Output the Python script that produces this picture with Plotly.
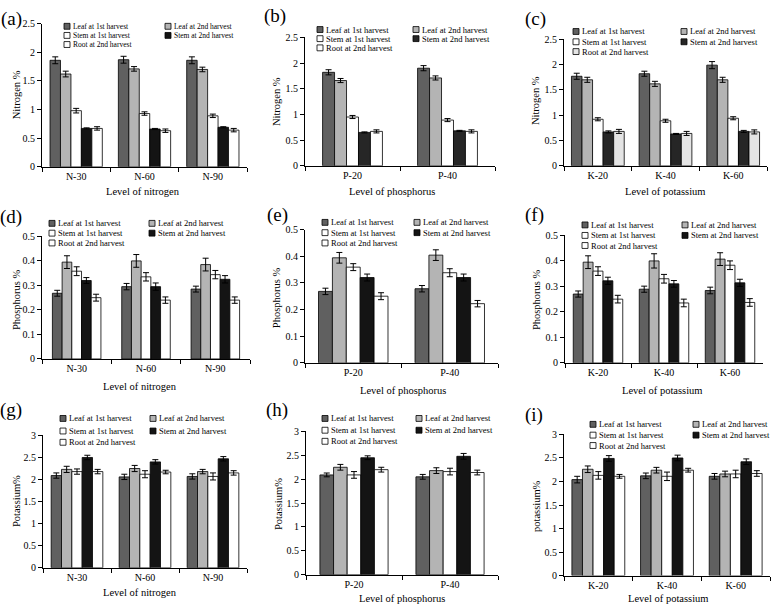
import plotly.graph_objects as go

W, H = 778, 612
FONT = "Liberation Serif, Times New Roman, serif"

SERIES = ["Leaf at 1st harvest", "Leaf at 2nd harvest", "Stem at 1st harvest",
          "Stem at 2nd harvest", "Root at 2nd harvest"]
N_LEVELS = ["N-30", "N-60", "N-90"]
P_LEVELS = ["P-20", "P-40"]
K_LEVELS = ["K-20", "K-40", "K-60"]

# rows = series (order as SERIES), columns = levels
a_vals = [[1.86, 1.87, 1.86], [1.62, 1.71, 1.70], [0.98, 0.93, 0.89], [0.67, 0.66, 0.69], [0.67, 0.63, 0.64]]
a_errs = [[0.06, 0.06, 0.06], [0.05, 0.04, 0.04], [0.04, 0.03, 0.03], [0.01, 0.01, 0.01], [0.03, 0.03, 0.03]]
b_vals = [[1.82, 1.90], [1.66, 1.71], [0.95, 0.89], [0.65, 0.68], [0.67, 0.67]]
b_errs = [[0.05, 0.05], [0.04, 0.04], [0.03, 0.03], [0.01, 0.01], [0.03, 0.03]]
c_vals = [[1.77, 1.82, 1.99], [1.70, 1.62, 1.70], [0.92, 0.89, 0.94], [0.67, 0.63, 0.68], [0.68, 0.64, 0.67]]
c_errs = [[0.06, 0.05, 0.07], [0.05, 0.05, 0.05], [0.03, 0.03, 0.03], [0.02, 0.01, 0.02], [0.04, 0.04, 0.04]]
d_vals = [[0.268, 0.295, 0.285], [0.395, 0.400, 0.385], [0.358, 0.335, 0.344], [0.320, 0.295, 0.325], [0.250, 0.240, 0.240]]
d_errs = [[0.012, 0.013, 0.012], [0.026, 0.026, 0.026], [0.018, 0.017, 0.017], [0.012, 0.015, 0.015], [0.014, 0.013, 0.013]]
e_vals = [[0.268, 0.278], [0.394, 0.404], [0.359, 0.338], [0.320, 0.320], [0.250, 0.222]]
e_errs = [[0.012, 0.012], [0.020, 0.020], [0.013, 0.015], [0.013, 0.013], [0.013, 0.012]]
f_vals = [[0.270, 0.289, 0.284], [0.395, 0.400, 0.407], [0.360, 0.330, 0.383], [0.322, 0.310, 0.314], [0.250, 0.235, 0.237]]
f_errs = [[0.012, 0.012, 0.013], [0.025, 0.028, 0.025], [0.017, 0.017, 0.017], [0.014, 0.013, 0.014], [0.015, 0.015, 0.015]]
g_vals = [[2.09, 2.06, 2.07], [2.23, 2.25, 2.18], [2.18, 2.12, 2.07], [2.50, 2.40, 2.47], [2.18, 2.17, 2.15]]
g_errs = [[0.06, 0.06, 0.06], [0.07, 0.07, 0.05], [0.06, 0.08, 0.08], [0.05, 0.05, 0.05], [0.05, 0.04, 0.05]]
h_vals = [[2.09, 2.05], [2.25, 2.18], [2.09, 2.16], [2.45, 2.48], [2.20, 2.14]]
h_errs = [[0.04, 0.05], [0.06, 0.06], [0.07, 0.07], [0.04, 0.06], [0.05, 0.05]]
i_vals = [[2.04, 2.12, 2.11], [2.26, 2.24, 2.16], [2.13, 2.11, 2.16], [2.49, 2.50, 2.42], [2.11, 2.24, 2.17]]
i_errs = [[0.07, 0.06, 0.06], [0.07, 0.06, 0.06], [0.08, 0.09, 0.08], [0.06, 0.06, 0.06], [0.04, 0.04, 0.06]]


def px(x):
    return x / W


def py(y):
    return 1 - y / H


BASE_COLORS = ["#606060", "#b4b4b4", "#ffffff", "#141414", "#ffffff"]

# panel layout configuration (pixels)
panels = [
    dict(lab="(a)", cats=N_LEVELS, vals=a_vals, errs=a_errs, ytitle="Nitrogen %", xtitle="Level of nitrogen",
         box=(42, 247, 18, 164), rng=(0, 2.5), dt=0.5, gap=0.235,
         leg=(64, 165, [20.7, 30, 39.3]), lfs=7.5, labpos=(11, 13), ytpos=(16, 90), xtpos=(143, 189),
         colors=BASE_COLORS),
    dict(lab="(b)", cats=P_LEVELS, vals=b_vals, errs=b_errs, ytitle="Nitrogen %", xtitle="Level of phosphorus",
         box=(305, 495, 32, 163), rng=(0, 2.5), dt=0.5, gap=0.37,
         leg=(317, 413, [24, 33.3, 42.7]), lfs=8.5, labpos=(275, 10), ytpos=(276, 98), xtpos=(392, 189),
         colors=["#606060", "#b4b4b4", "#ffffff", "#262626", "#ffffff"]),
    dict(lab="(c)", cats=K_LEVELS, vals=c_vals, errs=c_errs, ytitle="Nitrogen %", xtitle="Level of potassium",
         box=(564, 767, 34, 163), rng=(0, 2.5), dt=0.5, gap=0.22,
         leg=(573, 681, [26, 36.5, 46.5]), lfs=8.5, labpos=(535, 13), ytpos=(535, 97), xtpos=(665, 189),
         colors=["#606060", "#b4b4b4", "#ffffff", "#262626", "#e4e4e4"]),
    dict(lab="(d)", cats=N_LEVELS, vals=d_vals, errs=d_errs, ytitle="Phosphorus %", xtitle="Level of nitrogen",
         box=(42, 250, 235, 360), rng=(0, 0.5), dt=0.1, gap=0.30,
         leg=(49, 149, [221.7, 231.7, 241.7]), lfs=8.5, labpos=(11, 215), ytpos=(16, 300), xtpos=(140, 388),
         colors=BASE_COLORS),
    dict(lab="(e)", cats=P_LEVELS, vals=e_vals, errs=e_errs, ytitle="Phosphorus %", xtitle="Level of phosphorus",
         box=(305, 498, 228, 364), rng=(0, 0.5), dt=0.1, gap=0.28,
         leg=(322, 414, [220.7, 231.2, 241.7]), lfs=8.5, labpos=(277, 213), ytpos=(276, 298), xtpos=(403, 392),
         colors=BASE_COLORS),
    dict(lab="(f)", cats=K_LEVELS, vals=f_vals, errs=f_errs, ytitle="Phosphorus %", xtitle="Level of potassium",
         box=(565, 763, 234, 364), rng=(0, 0.5), dt=0.1, gap=0.25,
         leg=(582, 682, [223.3, 234, 244.3]), lfs=8.5, labpos=(534, 213), ytpos=(536, 300), xtpos=(662, 392),
         colors=BASE_COLORS),
    dict(lab="(g)", cats=N_LEVELS, vals=g_vals, errs=g_errs, ytitle="Potassium%", xtitle="Level of nitrogen",
         box=(43, 247, 438, 573), rng=(0, 3), dt=0.5, gap=0.24,
         leg=(60, 150, [420.7, 433.5, 445]), lfs=8.5, labpos=(11, 412), ytpos=(16, 505), xtpos=(140, 598),
         colors=BASE_COLORS),
    dict(lab="(h)", cats=P_LEVELS, vals=h_vals, errs=h_errs, ytitle="Potassium%", xtitle="Level of phosphorus",
         box=(306, 498, 434, 580), rng=(0, 3), dt=0.5, gap=0.29,
         leg=(322, 416, [420.7, 432.7, 444]), lfs=8.5, labpos=(277, 412), ytpos=(278, 508), xtpos=(402, 604),
         colors=BASE_COLORS),
    dict(lab="(i)", cats=K_LEVELS, vals=i_vals, errs=i_errs, ytitle="potassium%", xtitle="Level of potassium",
         box=(564, 770, 437, 581), rng=(0, 3), dt=0.5, gap=0.23,
         leg=(590, 693, [426.7, 437.7, 448.3]), lfs=8.5, labpos=(534, 417), ytpos=(536, 510), xtpos=(668, 604),
         colors=BASE_COLORS),
]

fig = go.Figure()
layout = dict(
    width=W, height=H, margin=dict(l=0, r=0, t=0, b=0),
    paper_bgcolor="white", plot_bgcolor="white", showlegend=False,
    barmode="overlay", font=dict(family=FONT, color="black", size=10),
)
annotations = []
shapes = []
legend_slots = [(0, 0), (1, 0), (0, 1), (1, 1), (0, 2)]  # (column, row) per series

for k, p in enumerate(panels, start=1):
    xa = "x" if k == 1 else f"x{k}"
    ya = "y" if k == 1 else f"y{k}"
    x0, x1, yt, yb = p["box"]
    n = len(p["cats"])
    span = 1 - p["gap"]
    bw = span / len(SERIES)
    for j, name in enumerate(SERIES):
        fig.add_trace(go.Bar(
            x=p["cats"], y=p["vals"][j], name=name, xaxis=xa, yaxis=ya,
            width=bw, offset=-span / 2 + j * bw,
            marker=dict(color=p["colors"][j], line=dict(color="black", width=0.8)),
            error_y=dict(type="data", array=p["errs"][j], color="black", thickness=1, width=3),
        ))
    layout["xaxis" if k == 1 else f"xaxis{k}"] = dict(
        domain=[px(x0), px(x1)], anchor=ya, type="category", range=[-0.5, n - 0.5],
        showline=True, linecolor="black", linewidth=1, ticks="outside", tickson="boundaries",
        ticklen=4, tickcolor="black", showgrid=False, zeroline=False,
        tickfont=dict(family=FONT, size=10, color="black"), fixedrange=True,
    )
    layout["yaxis" if k == 1 else f"yaxis{k}"] = dict(
        domain=[py(yb), py(yt)], anchor=xa, range=list(p["rng"]), dtick=p["dt"], tick0=0,
        showline=True, linecolor="black", linewidth=1, ticks="outside", ticklen=4,
        tickcolor="black", showgrid=False, zeroline=False,
        tickfont=dict(family=FONT, size=10, color="black"), fixedrange=True,
    )
    # panel label
    annotations.append(dict(text=p["lab"], x=px(p["labpos"][0]), y=py(p["labpos"][1]), xref="paper",
                            yref="paper", showarrow=False, xanchor="center", yanchor="middle",
                            font=dict(family=FONT, size=19, color="black")))
    # axis titles
    annotations.append(dict(text=p["ytitle"], x=px(p["ytpos"][0]), y=py(p["ytpos"][1]), xref="paper",
                            yref="paper", showarrow=False, textangle=-90, xanchor="center",
                            yanchor="middle", font=dict(family=FONT, size=10.5, color="black")))
    annotations.append(dict(text=p["xtitle"], x=px(p["xtpos"][0]), y=py(p["xtpos"][1]), xref="paper",
                            yref="paper", showarrow=False, xanchor="center", yanchor="middle",
                            font=dict(family=FONT, size=10.5, color="black")))
    # legend
    c1, c2, rows = p["leg"]
    cols = [c1, c2]
    for j, name in enumerate(SERIES):
        ci, ri = legend_slots[j]
        sx, sy = cols[ci], rows[ri]
        shapes.append(dict(type="rect", xref="paper", yref="paper",
                           x0=px(sx), x1=px(sx + 6), y0=py(sy + 3), y1=py(sy - 3),
                           fillcolor=p["colors"][j], line=dict(color="black", width=0.8)))
        annotations.append(dict(text=name, x=px(sx + 7), y=py(sy), xref="paper", yref="paper",
                                showarrow=False, xanchor="left", yanchor="middle",
                                font=dict(family=FONT, size=p["lfs"], color="black")))

layout["annotations"] = annotations
layout["shapes"] = shapes
fig.update_layout(**layout)
fig.write_html("out.html", config={"displayModeBar": False},
               post_script="document.body.style.margin='0';document.body.style.overflow='hidden';")
